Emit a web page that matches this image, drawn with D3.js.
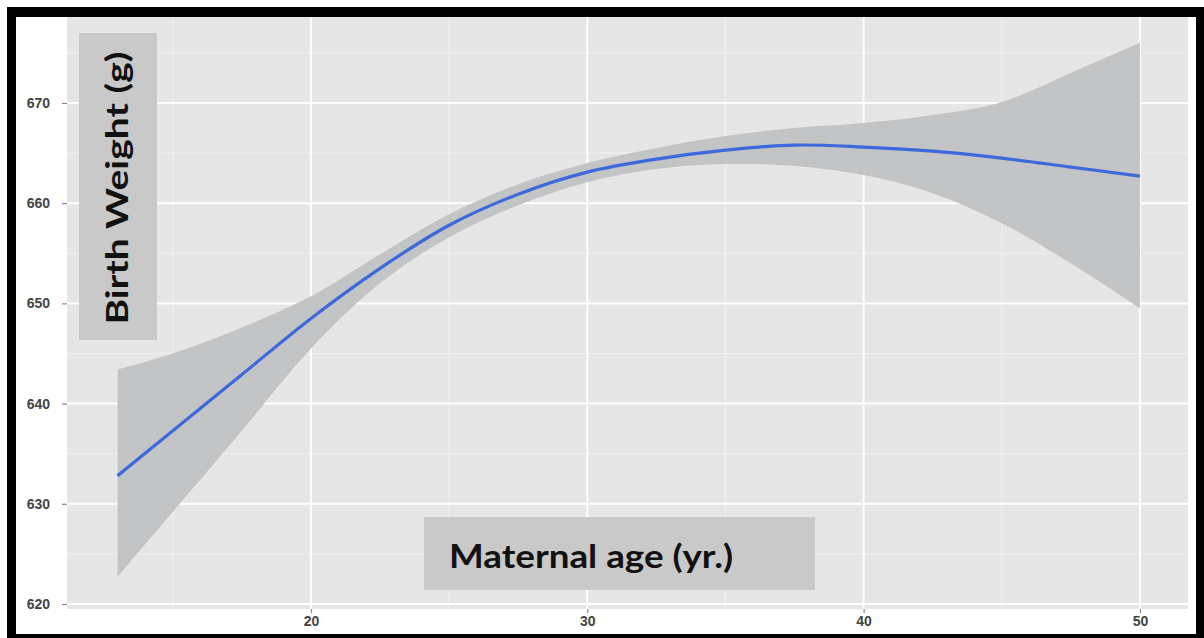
<!DOCTYPE html>
<html>
<head>
<meta charset="utf-8">
<script src="https://cdn.jsdelivr.net/npm/d3@7"></script>
<style>
  body { margin: 0; background: #fff; }
  svg { display: block; }
</style>
</head>
<body>
<div id="graph"></div>
<script>
const ages = [13, 15, 17.5, 20, 22.5, 25, 27.5, 30, 32.5, 35, 37.5, 40, 42.5, 45, 47.5, 50];
// fitted birth weight (g)
const fitWeight = [632.8, 637.3, 642.9, 648.5, 653.5, 657.8, 660.9, 663.1, 664.4, 665.3, 665.8, 665.6, 665.2, 664.5, 663.6, 662.7];
// confidence band
const upperCI = [643.4, 645.0, 647.6, 650.7, 654.9, 658.9, 661.9, 664.0, 665.5, 666.7, 667.5, 668.0, 668.8, 670.1, 673.0, 676.0];
const lowerCI = [622.7, 629.2, 637.3, 645.5, 652.0, 656.6, 659.8, 662.1, 663.4, 663.9, 663.7, 662.8, 661.0, 658.0, 654.0, 649.5];
// axis ticks
const xTicks = [20, 30, 40, 50];
const xMinor = [15, 25, 35, 45];
const yTicks = [620, 630, 640, 650, 660, 670];
const yMinor = [625, 635, 645, 655, 665, 675];

const W = 1204, H = 638;
const panel = { left: 67, right: 1188, top: 17, bottom: 609 };

const svg = d3.select("#graph").append("svg")
  .attr("width", W)
  .attr("height", H);

const x = d3.scaleLinear()
  .domain([11.17, 51.74])
  .range([panel.left, panel.right]);
const y = d3.scaleLinear()
  .domain([619.5, 678.58])
  .range([panel.bottom, panel.top]);

// panel background
svg.append("rect")
  .attr("x", panel.left).attr("y", panel.top)
  .attr("width", panel.right - panel.left)
  .attr("height", panel.bottom - panel.top)
  .attr("fill", "#e6e6e6");

// minor grid
const grid = svg.append("g");
grid.selectAll(".vmin").data(xMinor).enter().append("line")
  .attr("x1", d => x(d)).attr("x2", d => x(d))
  .attr("y1", panel.top).attr("y2", panel.bottom)
  .attr("stroke", "#f1f1f1").attr("stroke-width", 1);
grid.selectAll(".hmin").data(yMinor.filter(d => y(d) > panel.top)).enter().append("line")
  .attr("x1", panel.left).attr("x2", panel.right)
  .attr("y1", d => y(d)).attr("y2", d => y(d))
  .attr("stroke", "#f1f1f1").attr("stroke-width", 1);
// major grid
grid.selectAll(".vmaj").data(xTicks).enter().append("line")
  .attr("x1", d => x(d)).attr("x2", d => x(d))
  .attr("y1", panel.top).attr("y2", panel.bottom)
  .attr("stroke", "#ffffff").attr("stroke-width", 2);
grid.selectAll(".hmaj").data(yTicks).enter().append("line")
  .attr("x1", panel.left).attr("x2", panel.right)
  .attr("y1", d => y(d)).attr("y2", d => y(d))
  .attr("stroke", "#ffffff").attr("stroke-width", 2);

const pts = ages.map((a, i) => ({ age: a, fit: fitWeight[i], lo: lowerCI[i], hi: upperCI[i] }));

// confidence ribbon
const band = d3.area()
  .x(d => x(d.age))
  .y0(d => y(d.lo))
  .y1(d => y(d.hi))
  .curve(d3.curveCatmullRom.alpha(0.5));
svg.append("path")
  .datum(pts)
  .attr("d", band)
  .attr("fill", "#c3c4c5");

// smoothed line
const line = d3.line()
  .x(d => x(d.age))
  .y(d => y(d.fit))
  .curve(d3.curveCatmullRom.alpha(0.5));
svg.append("path")
  .datum(pts)
  .attr("d", line)
  .attr("fill", "none")
  .attr("stroke", "#3c69dc")
  .attr("stroke-width", 3.2);

// axes
const yAxis = svg.append("g")
  .attr("transform", "translate(" + panel.left + ",0)")
  .call(d3.axisLeft(y).tickValues(yTicks).tickSize(5).tickPadding(12));
const xAxis = svg.append("g")
  .attr("transform", "translate(0," + panel.bottom + ")")
  .call(d3.axisBottom(x).tickValues(xTicks).tickSize(4).tickPadding(3));
[yAxis, xAxis].forEach(ax => {
  ax.select(".domain").remove();
  ax.selectAll(".tick line").attr("stroke", "#888").attr("stroke-width", 1.2);
  ax.selectAll(".tick text")
    .attr("fill", "#444")
    .style("font-family", "'Liberation Sans', Arial, sans-serif")
    .style("font-weight", "bold")
    .style("font-size", "14px");
});

// label boxes pasted on the panel
svg.append("rect")
  .attr("x", 79).attr("y", 33).attr("width", 78).attr("height", 307)
  .attr("fill", "#c9c9c9");
svg.append("text")
  .attr("transform", "translate(128,188) rotate(-90)")
  .attr("text-anchor", "middle")
  .attr("textLength", 273)
  .attr("lengthAdjust", "spacingAndGlyphs")
  .style("font-family", "Lato, 'Open Sans', sans-serif")
  .style("font-weight", "bold")
  .style("font-size", "30px")
  .attr("fill", "#111")
  .text("Birth Weight (g)");

svg.append("rect")
  .attr("x", 424).attr("y", 517).attr("width", 391).attr("height", 73)
  .attr("fill", "#c9c9c9");
svg.append("text")
  .attr("x", 449).attr("y", 568)
  .attr("textLength", 284)
  .attr("lengthAdjust", "spacingAndGlyphs")
  .style("font-family", "Lato, 'Open Sans', sans-serif")
  .style("font-weight", "bold")
  .style("font-size", "32px")
  .attr("fill", "#111")
  .text("Maternal age (yr.)");

// black frame round the picture
const frame = svg.append("g").attr("fill", "#000");
frame.append("rect").attr("x", 7).attr("y", 7).attr("width", W - 7).attr("height", 10);
frame.append("rect").attr("x", 7).attr("y", 7).attr("width", 9).attr("height", H - 7);
frame.append("rect").attr("x", 1196).attr("y", 7).attr("width", 8).attr("height", H - 7);
frame.append("rect").attr("x", 7).attr("y", 634).attr("width", W - 7).attr("height", 4);
</script>
</body>
</html>
